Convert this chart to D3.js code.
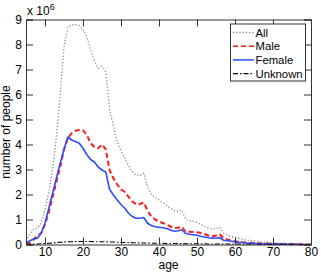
<!DOCTYPE html>
<html>
<head>
<meta charset="utf-8">
<script src="https://d3js.org/d3.v7.min.js"></script>
<style>
  body { margin: 0; background: #fff; }
  svg text { font-family: "Liberation Sans", Arial, sans-serif; fill: #000; }
</style>
</head>
<body>
<svg id="chart" width="321" height="273"></svg>
<script>
// ages 5..80, values in millions
var ages = d3.range(5, 81);

var allPeople = [0.15, 0.40, 0.60, 0.65, 0.85, 1.40, 2.10, 3.00, 4.30, 6.00,
  7.90, 8.70, 8.78, 8.80, 8.76, 8.62, 8.30, 7.80, 7.35, 7.05,
  7.12, 6.90, 5.40, 4.75, 4.10, 3.75, 3.45, 3.15, 2.90, 2.78,
  2.75, 2.85, 2.30, 2.00, 1.88, 1.78, 1.68, 1.55, 1.45, 1.35,
  1.33, 1.38, 1.02, 0.95, 0.92, 0.88, 0.80, 0.72, 0.66, 0.62,
  0.64, 0.68, 0.46, 0.38, 0.32, 0.28, 0.25, 0.21, 0.18, 0.16,
  0.14, 0.12, 0.10, 0.09, 0.08, 0.07, 0.06, 0.05, 0.05, 0.04,
  0.04, 0.03, 0.03, 0.02, 0.02, 0.02];

var male = [0.03, 0.05, 0.20, 0.35, 0.45, 0.80, 1.30, 1.90, 2.50, 3.10,
  3.80, 4.25, 4.45, 4.55, 4.58, 4.57, 4.38, 4.05, 3.90, 3.85,
  4.00, 3.80, 2.98, 2.65, 2.40, 2.20, 2.10, 1.90, 1.72, 1.60,
  1.62, 1.68, 1.35, 1.12, 1.00, 0.92, 0.86, 0.80, 0.72, 0.66,
  0.67, 0.71, 0.52, 0.51, 0.50, 0.49, 0.46, 0.42, 0.36, 0.32,
  0.36, 0.41, 0.25, 0.20, 0.16, 0.13, 0.11, 0.09, 0.08, 0.07,
  0.06, 0.05, 0.04, 0.04, 0.03, 0.03, 0.02, 0.02, 0.02, 0.01,
  0.01, 0.01, 0.01, 0.01, 0.00, 0.00];

var female = [0.05, 0.15, 0.22, 0.25, 0.45, 0.85, 1.45, 2.05, 2.65, 3.25,
  3.80, 4.30, 4.18, 4.12, 4.05, 3.85, 3.60, 3.40, 3.30, 3.10,
  2.98, 2.90, 2.20, 1.98, 1.78, 1.60, 1.45, 1.25, 1.12, 1.05,
  1.05, 1.08, 0.85, 0.76, 0.71, 0.69, 0.67, 0.64, 0.58, 0.53,
  0.55, 0.58, 0.45, 0.41, 0.39, 0.37, 0.33, 0.30, 0.27, 0.25,
  0.26, 0.27, 0.17, 0.15, 0.13, 0.11, 0.09, 0.08, 0.06, 0.05,
  0.04, 0.04, 0.03, 0.02, 0.02, 0.02, 0.01, 0.01, 0.01, 0.01,
  0.01, 0.01, 0.00, 0.00, 0.00, 0.00];

var unknown = [0.01, 0.01, 0.02, 0.02, 0.03, 0.04, 0.05, 0.06, 0.08, 0.09,
  0.10, 0.11, 0.11, 0.12, 0.12, 0.12, 0.12, 0.12, 0.11, 0.11,
  0.11, 0.11, 0.10, 0.10, 0.09, 0.09, 0.08, 0.08, 0.07, 0.07,
  0.06, 0.06, 0.06, 0.05, 0.05, 0.05, 0.05, 0.04, 0.04, 0.04,
  0.04, 0.04, 0.03, 0.03, 0.03, 0.03, 0.03, 0.03, 0.02, 0.02,
  0.02, 0.02, 0.02, 0.02, 0.02, 0.02, 0.02, 0.01, 0.01, 0.01,
  0.01, 0.01, 0.01, 0.01, 0.01, 0.01, 0.01, 0.01, 0.01, 0.01,
  0.01, 0.00, 0.00, 0.00, 0.00, 0.00];

var xTicks = [10, 20, 30, 40, 50, 60, 70, 80];
var yTicks = [0, 1, 2, 3, 4, 5, 6, 7, 8, 9];

var series = [
  {name: "All", values: allPeople, color: "#888888", width: 1.3, dash: "1.2,2"},
  {name: "Male", values: male, color: "#ff1a1a", width: 2, dash: "5,3"},
  {name: "Female", values: female, color: "#2e4bff", width: 1.6, dash: null},
  {name: "Unknown", values: unknown, color: "#000000", width: 1.2, dash: "5,2,1.5,2"}
];

var pLeft = 26, pRight = 311, pTop = 19.5, pBottom = 244.5;
var svg = d3.select("#chart");

var x = d3.scaleLinear().domain([5, 80]).range([pLeft, pRight]);
var y = d3.scaleLinear().domain([0, 9]).range([pBottom, pTop]);

// lines
var line = d3.line()
  .x(function(d, i) { return x(ages[i]); })
  .y(function(d) { return y(d); });

series.forEach(function(s) {
  svg.append("path")
    .attr("d", line(s.values))
    .attr("fill", "none")
    .attr("stroke", s.color)
    .attr("stroke-width", s.width)
    .attr("stroke-dasharray", s.dash)
    .attr("stroke-linejoin", "round");
});

// axes (ticks point inwards on all four sides)
var tickLen = 7;
var fmt = d3.format("d");
svg.append("g").attr("transform", "translate(0," + pBottom + ")")
  .call(d3.axisBottom(x).tickValues(xTicks).tickSize(-tickLen).tickPadding(3).tickFormat(fmt));
svg.append("g").attr("transform", "translate(0," + pTop + ")")
  .call(d3.axisTop(x).tickValues(xTicks).tickSize(-tickLen).tickFormat(""));
svg.append("g").attr("transform", "translate(" + pLeft + ",0)")
  .call(d3.axisLeft(y).tickValues(yTicks).tickSize(-tickLen).tickPadding(4).tickFormat(fmt));
svg.append("g").attr("transform", "translate(" + pRight + ",0)")
  .call(d3.axisRight(y).tickValues(yTicks).tickSize(-tickLen).tickFormat(""));

svg.selectAll(".domain").attr("stroke", "#333");
svg.selectAll(".tick line").attr("stroke", "#333");
svg.selectAll(".tick text").attr("font-size", 12).attr("font-family", "Liberation Sans, Arial, sans-serif").attr("fill", "#000");

// exponent label
var ex = svg.append("text").attr("x", pLeft + 1).attr("y", pTop - 5).attr("font-size", 12);
ex.append("tspan").text("x 10");
ex.append("tspan").attr("dy", -5).attr("font-size", 9).text("6");

// axis titles
svg.append("text")
  .attr("x", (pLeft + pRight) / 2).attr("y", 268.5)
  .attr("text-anchor", "middle").attr("font-size", 12)
  .text("age");
svg.append("text")
  .attr("transform", "translate(10," + ((pTop + pBottom) / 2) + ") rotate(-90)")
  .attr("text-anchor", "middle").attr("font-size", 12)
  .text("number of people");

// legend
var lg = svg.append("g");
lg.append("rect")
  .attr("x", 230.5).attr("y", 24).attr("width", 75).attr("height", 57)
  .attr("fill", "#fff").attr("stroke", "#333").attr("stroke-width", 1);
series.forEach(function(s, i) {
  var ly = 32.5 + i * 13.7;
  lg.append("line")
    .attr("x1", 233).attr("x2", 254).attr("y1", ly).attr("y2", ly)
    .attr("stroke", s.color).attr("stroke-width", Math.min(s.width, 1.5))
    .attr("stroke-dasharray", s.dash);
  lg.append("text")
    .attr("x", 255.5).attr("y", ly + 4.2).attr("font-size", 11.3)
    .text(s.name);
});
</script>
</body>
</html>
